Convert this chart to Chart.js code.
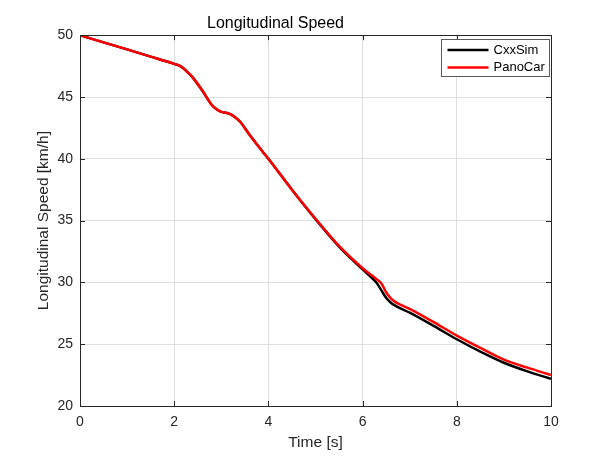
<!DOCTYPE html>
<html lang="en">
  <head>
    <meta charset="UTF-8" />
    <title>Longitudinal Speed</title>
    <script src="https://cdn.jsdelivr.net/npm/chart.js"></script>
    <style>
      body { margin: 0; background: #fff; }
      #speedChart { display: block; }
    </style>
  </head>
  <body>
    <canvas id="speedChart" width="610" height="457"></canvas>

    <script>
      // time axis [s] and speeds [km/h]
      const timeS = [0, 0.5, 1, 1.5, 2, 2.1, 2.2, 2.3, 2.4, 2.6, 2.8, 2.9, 3.0, 3.1, 3.2, 3.3, 3.4, 3.6, 3.8, 4.0,
        4.5, 5.0, 5.5, 6.0, 6.2, 6.3, 6.4, 6.5, 6.6, 6.7, 7.0, 7.5, 8.0, 8.5, 9.0, 9.5, 10];
      const cxxSim = [50, 49.42, 48.85, 48.27, 47.68, 47.55, 47.3, 46.95, 46.55, 45.5, 44.35, 44.0, 43.8, 43.72, 43.6, 43.35, 43.0, 41.95, 40.95, 40.0,
        37.5, 35.12, 32.9, 31.05, 30.35, 29.95, 29.35, 28.75, 28.35, 28.1, 27.55, 26.5, 25.4, 24.4, 23.5, 22.8, 22.2];
      const panoCar = [50, 49.42, 48.85, 48.27, 47.68, 47.55, 47.3, 46.95, 46.55, 45.5, 44.35, 44.0, 43.8, 43.72, 43.6, 43.35, 43.0, 41.95, 40.95, 40.0,
        37.5, 35.15, 32.95, 31.15, 30.55, 30.25, 29.9, 29.2, 28.7, 28.4, 27.85, 26.8, 25.7, 24.7, 23.75, 23.1, 22.5];
      const seriesNames = ["CxxSim", "PanoCar"];
      const seriesColors = ["#000000", "#ff0000"];
      const xTicks = [0, 2, 4, 6, 8, 10];
      const yTicks = [20, 25, 30, 35, 40, 45, 50];

      const fontFamily = "'Liberation Sans', Arial, sans-serif";
      const axisGray = "#262626";

      function toPoints(values) {
        return timeS.map((t, i) => ({ x: t, y: values[i] }));
      }

      // box round the axes, inward ticks, and a legend inside the plot
      const matlabAxes = {
        id: "matlabAxes",
        afterDraw(chart) {
          const { ctx, chartArea: a, scales } = chart;
          const tick = 5;
          ctx.save();
          ctx.strokeStyle = axisGray;
          ctx.lineWidth = 1;
          ctx.beginPath();
          xTicks.forEach((v) => {
            const px = Math.round(scales.x.getPixelForValue(v)) + 0.5;
            ctx.moveTo(px, a.bottom);
            ctx.lineTo(px, a.bottom - tick);
            ctx.moveTo(px, a.top);
            ctx.lineTo(px, a.top + tick);
          });
          yTicks.forEach((v) => {
            const py = Math.round(scales.y.getPixelForValue(v)) + 0.5;
            ctx.moveTo(a.left, py);
            ctx.lineTo(a.left + tick, py);
            ctx.moveTo(a.right, py);
            ctx.lineTo(a.right - tick, py);
          });
          ctx.stroke();
          ctx.strokeRect(Math.round(a.left) + 0.5, Math.round(a.top) + 0.5,
            Math.round(a.right - a.left), Math.round(a.bottom - a.top));

          // legend
          const boxW = 108, boxH = 37;
          const bx = Math.round(a.right) - 2 - boxW + 0.5;
          const by = Math.round(a.top) + 4 + 0.5;
          ctx.fillStyle = "#fff";
          ctx.fillRect(bx, by, boxW, boxH);
          ctx.strokeStyle = "#5a5a5a";
          ctx.strokeRect(bx, by, boxW, boxH);
          ctx.font = "13px " + fontFamily;
          ctx.textBaseline = "middle";
          seriesNames.forEach((name, i) => {
            const ly = by + 10.5 + i * 17.4;
            ctx.strokeStyle = seriesColors[i];
            ctx.lineWidth = 2.5;
            ctx.beginPath();
            ctx.moveTo(bx + 6, ly);
            ctx.lineTo(bx + 47, ly);
            ctx.stroke();
            ctx.fillStyle = "#000";
            ctx.fillText(name, bx + 52, ly);
          });
          ctx.restore();
        },
      };

      const speedChart = new Chart(document.getElementById("speedChart"), {
        type: "line",
        data: {
          datasets: [
            {
              label: seriesNames[0],
              data: toPoints(cxxSim),
              borderColor: seriesColors[0],
              borderWidth: 2.5,
              pointRadius: 0,
              cubicInterpolationMode: "monotone",
              order: 1,
            },
            {
              label: seriesNames[1],
              data: toPoints(panoCar),
              borderColor: seriesColors[1],
              borderWidth: 2.5,
              pointRadius: 0,
              cubicInterpolationMode: "monotone",
              order: 0,
            },
          ],
        },
        options: {
          responsive: false,
          animation: false,
          layout: { padding: { left: 0, right: 59, top: 0, bottom: 0 } },
          plugins: {
            legend: { display: false },
            tooltip: { enabled: false },
            title: {
              display: true,
              text: "Longitudinal Speed",
              color: "#000",
              font: { family: fontFamily, size: 16, weight: "normal" },
              padding: { top: 14, bottom: 2 },
            },
          },
          scales: {
            x: {
              type: "linear",
              min: 0,
              max: 10,
              afterFit(scale) { scale.height = 51; },
              afterBuildTicks(scale) { scale.ticks = xTicks.map((v) => ({ value: v })); },
              ticks: {
                color: axisGray,
                padding: 8,
                maxRotation: 0,
                font: { family: fontFamily, size: 14 },
              },
              grid: { color: "#dfdfdf", drawTicks: false },
              border: { display: false },
              title: {
                display: true,
                text: "Time [s]",
                color: axisGray,
                font: { family: fontFamily, size: 15.5 },
                padding: { top: 0, bottom: 5 },
              },
            },
            y: {
              min: 20,
              max: 50,
              afterFit(scale) { scale.width = 80; },
              afterBuildTicks(scale) { scale.ticks = yTicks.map((v) => ({ value: v })); },
              ticks: {
                color: axisGray,
                padding: 7,
                font: { family: fontFamily, size: 14 },
              },
              grid: { color: "#dfdfdf", drawTicks: false },
              border: { display: false },
              title: {
                display: true,
                text: "Longitudinal Speed [km/h]",
                color: axisGray,
                font: { family: fontFamily, size: 15.5 },
                padding: { top: 34, bottom: 0 },
              },
            },
          },
        },
        plugins: [matlabAxes],
      });
    </script>
  </body>
</html>
